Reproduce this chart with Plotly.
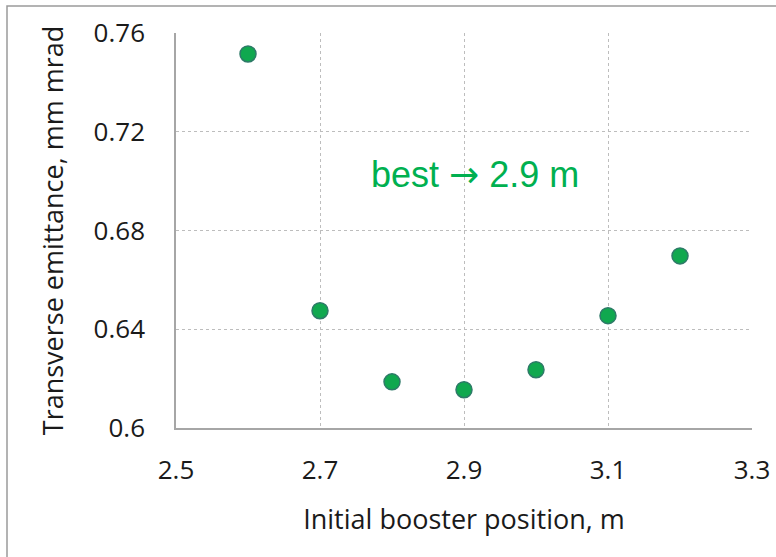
import plotly.graph_objects as go

# Booster position scan
position_m = [2.6, 2.7, 2.8, 2.9, 3.0, 3.1, 3.2]
emittance = [0.7515, 0.6475, 0.6187, 0.6155, 0.6236, 0.6455, 0.6697]

x_ticks = [2.5, 2.7, 2.9, 3.1, 3.3]
x_tick_text = ["2.5", "2.7", "2.9", "3.1", "3.3"]
y_ticks = [0.6, 0.64, 0.68, 0.72, 0.76]
y_tick_text = ["0.6", "0.64", "0.68", "0.72", "0.76"]

W, H = 776, 557
L, R, T, B = 176, 24, 33, 129

fig = go.Figure()
fig.add_trace(go.Scatter(
    x=position_m, y=emittance, mode="markers",
    marker=dict(size=16, color="#10a84f", line=dict(color="#2e7a68", width=1.5)),
    showlegend=False,
))

tick_font = dict(family="Open Sans, Carlito, sans-serif", size=26, color="#1a1a1a")
title_font = dict(family="Open Sans, Carlito, sans-serif", size=27, color="#1a1a1a")

fig.update_xaxes(
    range=[2.5, 3.3], tickvals=x_ticks, ticktext=x_tick_text,
    showgrid=True, gridcolor="#bdbdbd", griddash="dot", gridwidth=1,
    showline=True, linecolor="#a6a6a6", linewidth=1.5,
    ticks="", tickfont=tick_font, ticklabelstandoff=18, automargin=False,
    title=dict(text="Initial booster position, m", font=title_font, standoff=24),
    zeroline=False,
)
fig.update_yaxes(
    range=[0.6, 0.76], tickvals=y_ticks, ticktext=y_tick_text,
    showgrid=True, gridcolor="#bdbdbd", griddash="dot", gridwidth=1,
    showline=True, linecolor="#a6a6a6", linewidth=1.5,
    ticks="", tickfont=tick_font, ticklabelstandoff=24, automargin=False,
    title=dict(text="Transverse emittance, mm mrad", font=title_font, standoff=22),
    zeroline=False,
)

fig.add_annotation(
    x=2.915, y=0.7025, xref="x", yref="y", showarrow=False,
    text="best <span style='font-family:DejaVu Sans'>\u2192</span> 2.9 m",
    font=dict(family="Liberation Sans, Arial, sans-serif", size=36, color="#00b050"),
)

# outer frame of the figure
fig.add_shape(
    type="rect", xref="paper", yref="paper",
    x0=(7 - L) / (W - L - R), x1=1.2,
    y0=-0.5, y1=1 + (T - 6) / (H - T - B),
    line=dict(color="#9a9a9a", width=1.5), fillcolor="rgba(0,0,0,0)",
    layer="below",
)

fig.update_layout(
    width=W, height=H,
    margin=dict(l=L, r=R, t=T, b=B),
    paper_bgcolor="white", plot_bgcolor="white",
)

fig.write_html("out.html")
